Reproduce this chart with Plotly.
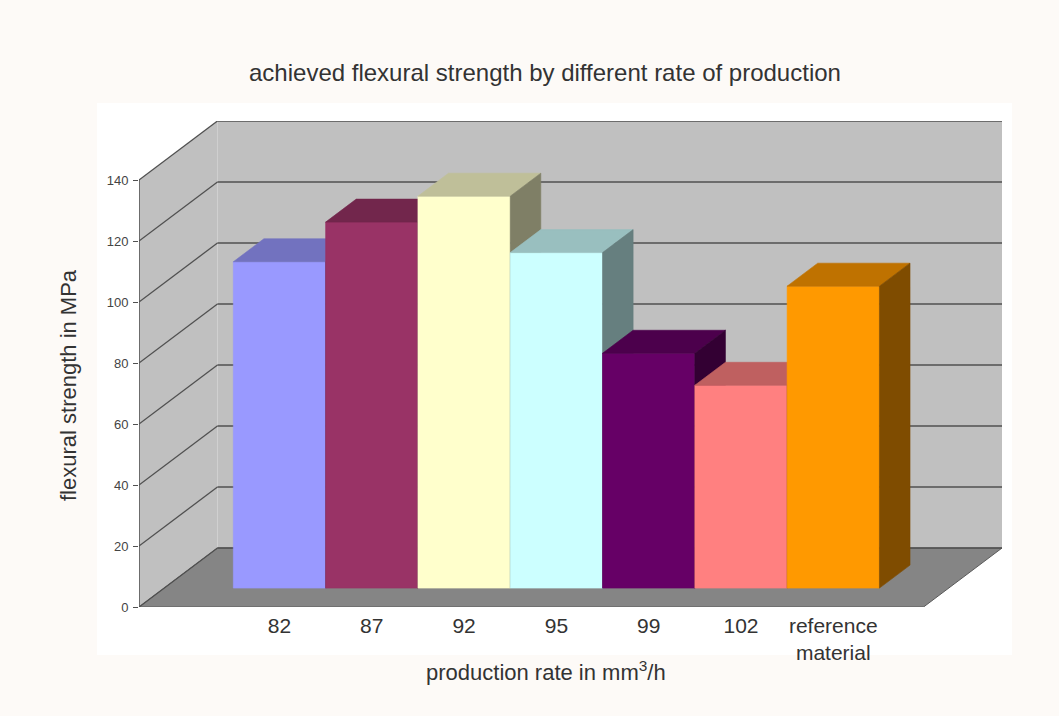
import plotly.graph_objects as go

# ---- data ----
categories = ["82", "87", "92", "95", "99", "102", "reference<br>material"]
strength = [107, 120, 128.5, 110, 77, 66.5, 99]
front_colors = ["#9999FF", "#993366", "#FFFFCC", "#CCFFFF", "#660066", "#FF8080", "#FF9900"]
y_ticks = [0, 20, 40, 60, 80, 100, 120, 140]

# ---- geometry (oblique 3D projection in data units) ----
W, H = 1059, 716
ML, MR, MT, MB = 139, 57, 121, 109
PW, PH = W - ML - MR, H - MT - MB
YMAX_VAL = 140
px_per_val = 427 / 140.0
DY = 59 / px_per_val            # depth rise in value units
margin_cat = 0.75
floor_w = len(categories) + 2 * margin_cat
XMAX = PW / 92.3
DX = XMAX - floor_w             # depth shift in category units
YTOP = PH / px_per_val
f1, f2 = 0.32, 0.71             # bar front / back depth fractions


def shade(hexcol, k):
    h = hexcol.lstrip("#")
    r, g, b = (int(h[i:i + 2], 16) for i in (0, 2, 4))
    return "#%02X%02X%02X" % (int(r * k), int(g * k), int(b * k))


shapes = []
# white inner panel
shapes.append(dict(type="rect", xref="paper", yref="paper", layer="below",
                   x0=(97 - ML) / PW, x1=(1012 - ML) / PW,
                   y0=(H - MB - 655) / PH, y1=(H - MB - 103) / PH,
                   fillcolor="white", line=dict(width=0)))
# back wall
shapes.append(dict(type="path", layer="below", xref="x", yref="y",
                   path=f"M {DX},{DY} L {DX},{YMAX_VAL + DY} L {XMAX},{YMAX_VAL + DY} L {XMAX},{DY} Z",
                   fillcolor="#C0C0C0", line=dict(width=0)))
# left wall
shapes.append(dict(type="path", layer="below", xref="x", yref="y",
                   path=f"M 0,0 L 0,{YMAX_VAL} L {DX},{YMAX_VAL + DY} L {DX},{DY} Z",
                   fillcolor="#C0C0C0", line=dict(width=0)))
# floor
shapes.append(dict(type="path", layer="below", xref="x", yref="y",
                   path=f"M 0,0 L {floor_w},0 L {floor_w + DX},{DY} L {DX},{DY} Z",
                   fillcolor="#858585", line=dict(color="#5A5A5A", width=1)))
# gridlines (left wall diagonal + back wall horizontal)
for v in y_ticks:
    shapes.append(dict(type="line", layer="below", xref="x", yref="y",
                       x0=0, y0=v, x1=DX, y1=v + DY,
                       line=dict(color="#505050", width=1.3)))
    shapes.append(dict(type="line", layer="below", xref="x", yref="y",
                       x0=DX, y0=v + DY, x1=XMAX, y1=v + DY,
                       line=dict(color="#505050", width=1.5)))
# front-left vertical edge
shapes.append(dict(type="line", layer="below", xref="x", yref="y",
                   x0=0, y0=0, x1=0, y1=YMAX_VAL,
                   line=dict(color="#505050", width=1.5)))

fig = go.Figure()


def poly(xs, ys, color):
    fig.add_trace(go.Scatter(x=xs + [xs[0]], y=ys + [ys[0]], mode="lines",
                             fill="toself", fillcolor=color,
                             line=dict(color=color, width=0.6),
                             hoverinfo="skip", showlegend=False))


tick_x = []
for i, (v, c) in enumerate(zip(strength, front_colors)):
    xl = margin_cat + i + f1 * DX
    xr = xl + 1
    yb = f1 * DY
    yt = v + f1 * DY
    ddx = (f2 - f1) * DX
    ddy = (f2 - f1) * DY
    # front face
    poly([xl, xr, xr, xl], [yb, yb, yt, yt], c)
    # top face
    poly([xl, xr, xr + ddx, xl + ddx], [yt, yt, yt + ddy, yt + ddy], shade(c, 0.75))
    # right side face
    poly([xr, xr + ddx, xr + ddx, xr], [yb, yb + ddy, yt + ddy, yt], shade(c, 0.5))
    tick_x.append((xl + xr) / 2)

font_family = "Liberation Sans, Arial, sans-serif"
fig.update_layout(
    width=W, height=H, autosize=False,
    margin=dict(l=ML, r=MR, t=MT, b=MB, pad=0),
    paper_bgcolor="#FDFAF7", plot_bgcolor="rgba(0,0,0,0)",
    shapes=shapes,
    font=dict(family=font_family, color="#333333"),
    xaxis=dict(range=[0, XMAX], showgrid=False, zeroline=False, showline=False,
               tickvals=tick_x, ticktext=categories, ticks="", fixedrange=True,
               ticklabelstandoff=4,
               tickfont=dict(size=21, color="#333333")),
    yaxis=dict(range=[0, YTOP], showgrid=False, zeroline=False, showline=False,
               tickvals=y_ticks, ticks="outside", ticklen=5, tickwidth=1,
               tickcolor="#505050", fixedrange=True, ticklabelstandoff=2,
               tickfont=dict(size=13, color="#444444")),
    annotations=[
        dict(text="achieved flexural strength by different rate of production",
             xref="paper", yref="paper", x=(545 - ML) / PW, y=(H - MB - 72) / PH,
             xanchor="center", yanchor="middle", showarrow=False,
             font=dict(size=24, color="#333333")),
        dict(text="flexural strength in MPa", textangle=-90,
             xref="paper", yref="paper", x=(68 - ML) / PW, y=(H - MB - 385) / PH,
             xanchor="center", yanchor="middle", showarrow=False,
             font=dict(size=22, color="#333333")),
        dict(text="production rate in mm<sup>3</sup>/h",
             xref="paper", yref="paper", x=(546 - ML) / PW, y=(H - MB - 671) / PH,
             xanchor="center", yanchor="middle", showarrow=False,
             font=dict(size=22, color="#333333")),
    ],
)

fig.write_html("out.html")
